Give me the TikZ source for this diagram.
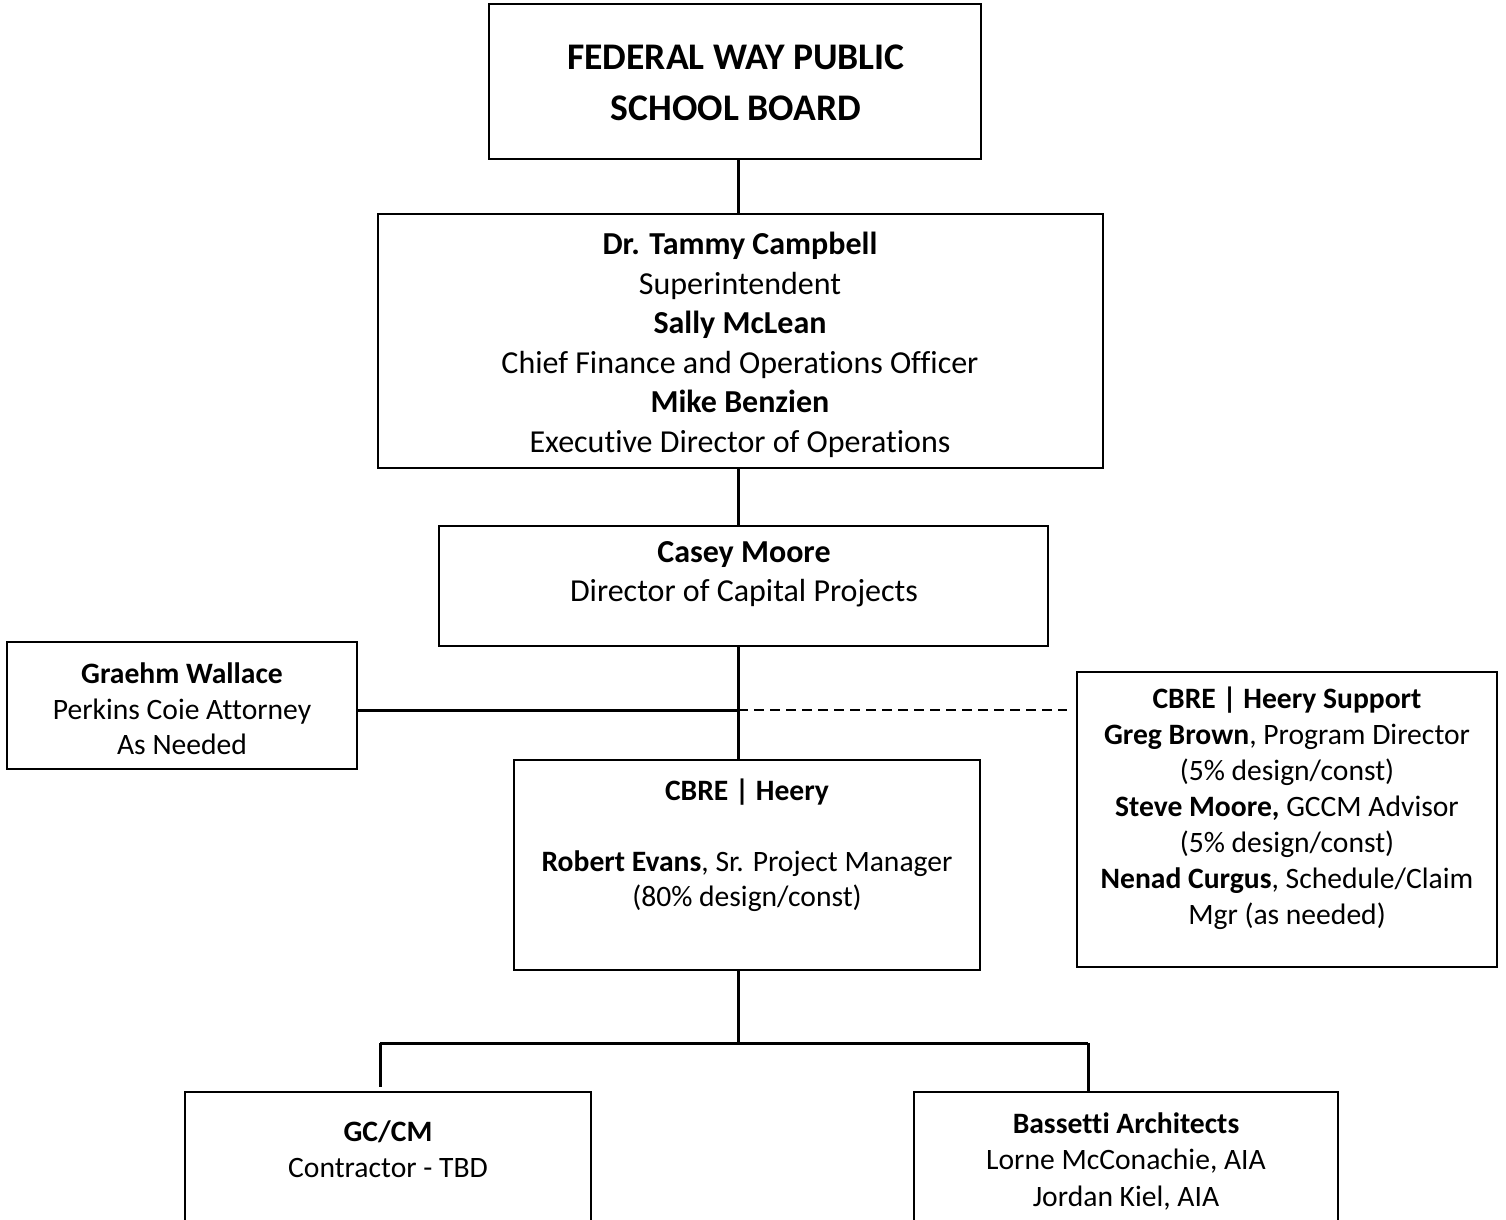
\documentclass[tikz,border=0pt]{standalone}
\usepackage{fontspec}
\setmainfont[Ligatures=NoCommon]{Carlito}
\usetikzlibrary{fit}
\begin{document}
\begin{tikzpicture}[x=0.5pt,y=-0.5pt,
  box/.style={draw, line width=1pt, inner sep=0pt, outer sep=0pt},
  txt/.style={align=center, inner sep=0pt, font=\fontsize{14.8}{17.75}\selectfont},
  conn/.style={line width=1.5pt},
  dconn/.style={line width=0.8pt, dash pattern=on 5pt off 3pt}]
\useasboundingbox (0,0) rectangle (1506,1220);
\clip (0,0) rectangle (1506,1220);
% boxes
\node[box, fit={(489,4) (981,159)}] (board) {};
\node[box, fit={(378,214) (1103,468)}] (supt) {};
\node[box, fit={(439,526) (1048,646)}] (casey) {};
\node[box, fit={(7,642) (357,769)}] (graehm) {};
\node[box, fit={(514,760) (980,970)}] (cbre) {};
\node[box, fit={(1077,672) (1497,967)}] (support) {};
\node[box, fit={(185,1092) (591,1260)}] (gccm) {};
\node[box, fit={(914,1092) (1338,1260)}] (bass) {};
% texts
\node[txt, font=\fontsize{18.8}{25.5}\selectfont\bfseries] (boardtxt) at (736,83) {FEDERAL WAY PUBLIC\\SCHOOL BOARD};
\node[txt, font=\fontsize{16}{19.75}\selectfont] (supttxt) at (740,345) {\textbf{Dr. Tammy Campbell}\\Superintendent\\\textbf{Sally McLean}\\Chief Finance and Operations Officer\\\textbf{Mike Benzien}\\Executive Director of Operations};
\node[txt, font=\fontsize{16}{19.75}\selectfont] (caseytxt) at (744,574) {\textbf{Casey Moore}\\Director of Capital Projects};
\node[txt] (graehmtxt) at (182,709) {\textbf{Graehm Wallace}\\Perkins Coie Attorney\\As Needed};
\node[txt] (cbretxt) at (747,845) {\textbf{CBRE | Heery}\\[17.75pt]\textbf{Robert Evans}, Sr. Project Manager\\(80\% design/const)};
\node[txt, font=\fontsize{14.8}{18}\selectfont] (supporttxt) at (1287,808) {\textbf{CBRE | Heery Support}\\\textbf{Greg Brown}, Program Director\\(5\% design/const)\\\textbf{Steve Moore,} GCCM Advisor\\(5\% design/const)\\\textbf{Nenad Curgus}, Schedule/Claim\\Mgr (as needed)};
\node[txt] (gccmtxt) at (388,1149) {\textbf{GC/CM}\\Contractor - TBD};
\node[txt, font=\fontsize{14.8}{18.25}\selectfont] (basstxt) at (1126,1161) {\textbf{Bassetti Architects}\\Lorne McConachie, AIA\\Jordan Kiel, AIA};
% connectors
\coordinate (spine) at (738,0);
\coordinate (jn) at (738,710);
\coordinate (dashend) at (1067,710);
\coordinate (bj) at (738,1043);
\coordinate (bl) at (380,1043);
\coordinate (br) at (1088,1043);
\coordinate (blend) at (380,1087);
\draw[conn] (board.south -| spine) -- (supt.north -| spine);
\draw[conn] (supt.south -| spine) -- (casey.north -| spine);
\draw[conn] (casey.south -| spine) -- (cbre.north -| spine);
\draw[conn] (graehm.east |- jn) -- (jn);
\draw[dconn] (jn) -- (dashend);
\draw[conn] (cbre.south -| spine) -- (bj);
\draw[conn] (bl) -- (br);
\draw[conn] (bl) -- (blend);
\draw[conn] (br) -- (bass.north -| br);
\end{tikzpicture}
\end{document}
